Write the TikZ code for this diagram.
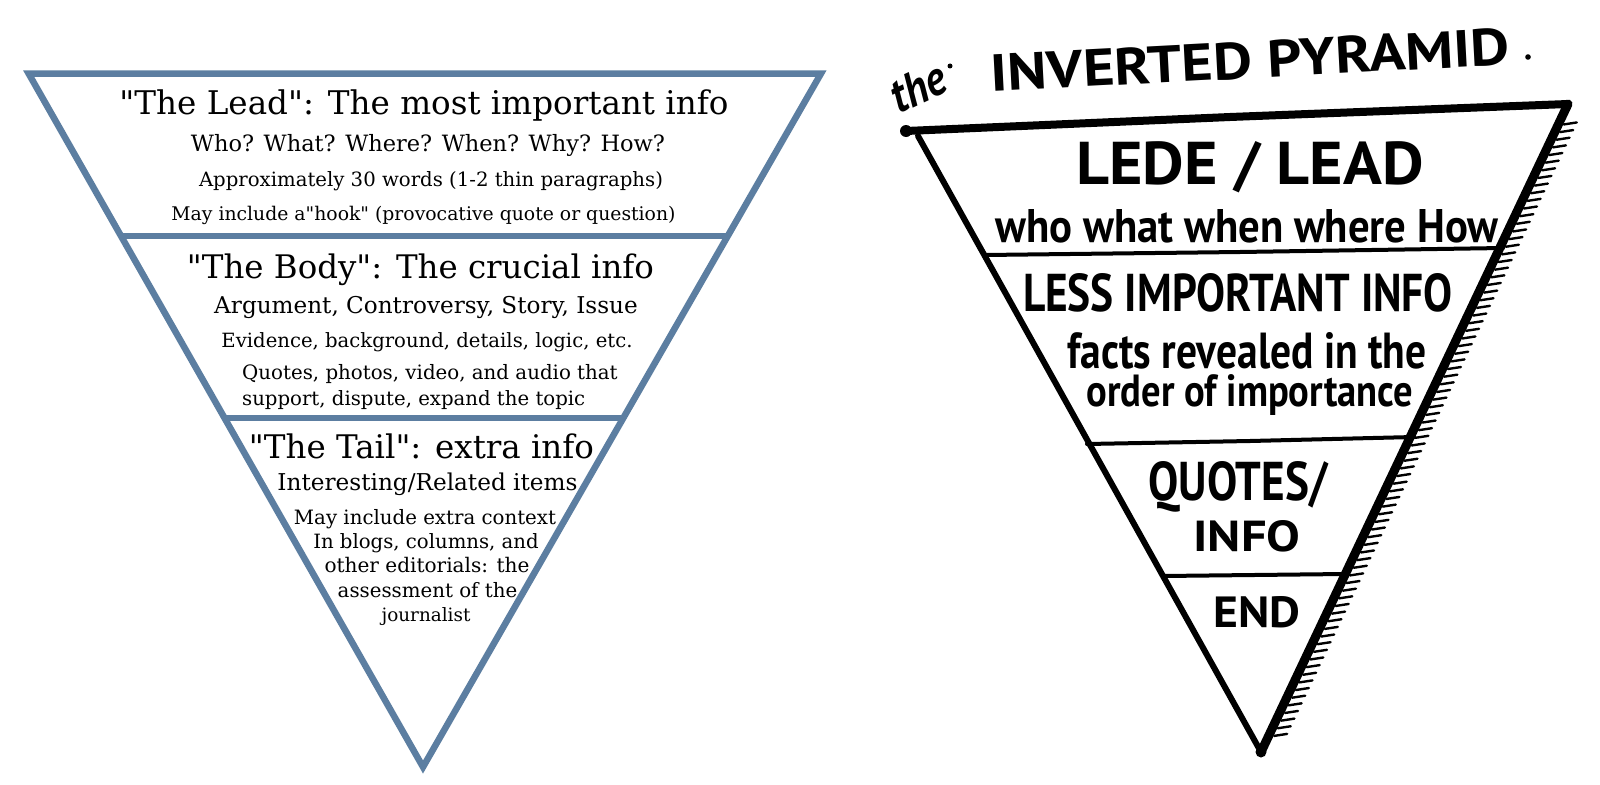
\documentclass[tikz,border=0pt]{standalone}
\usepackage{fontspec}
\setmainfont{DejaVu Serif}[Ligatures=TeXOff]
\newfontfamily\hand{PT Sans}[Ligatures=TeXOff]
\usetikzlibrary{calc}
\definecolor{pyrblue}{RGB}{92,126,161}
\newcommand\fitw[2]{\resizebox{#1pt}{!}{#2}}
\newcommand\fitwh[3]{\resizebox{#1pt}{#2pt}{#3}}
\begin{document}
\begin{tikzpicture}[x=1pt,y=-1pt,
  bluestroke/.style={draw=pyrblue,line width=6.5pt,line join=miter},
  lt/.style={inner sep=0pt,anchor=base,font=\fontsize{20}{24}\selectfont},
  ht/.style={inner sep=0pt,anchor=base,font=\hand\bfseries\fontsize{40}{48}\selectfont},
  inkedge/.style={draw=black,line width=6pt,line cap=round,line join=round},
  inkrule/.style={draw=black,line width=4pt,line cap=round},
  inktick/.style={draw=black,line width=2.4pt,line cap=round}]
\useasboundingbox (0,0) rectangle (1600,784);
\fill[white] (0,0) rectangle (1600,784);

% ---------- left pyramid ----------
\coordinate (LA) at (28.6,73.5);
\coordinate (LB) at (821,73.5);
\coordinate (LC) at (423,767);
\draw[bluestroke] (LA) -- (LB) -- (LC) -- cycle;
\coordinate (L1a) at (121,236);   \coordinate (L1b) at (727.7,236);
\coordinate (L2a) at (224.5,418); \coordinate (L2b) at (623.3,418);
\draw[bluestroke] (L1a) -- (L1b);
\draw[bluestroke] (L2a) -- (L2b);

\node[lt] (lead)  at (424,114.3) {\fitw{609}{"The Lead": The most important info}};
\node[lt] (who)   at (428,151)   {\fitw{474}{Who? What? Where? When? Why? How?}};
\node[lt] (appr)  at (431,186.7) {\fitw{464}{Approximately 30 words (1-2 thin paragraphs)}};
\node[lt] (hook)  at (423.5,220.4) {\fitw{504}{May include a"hook" (provocative quote or question)}};

\node[lt] (body)  at (420.5,278.6) {\fitw{467}{"The Body": The crucial info}};
\node[lt] (arg)   at (426,313)   {\fitw{423.5}{Argument, Controversy, Story, Issue}};
\node[lt] (evid)  at (427,347)   {\fitw{411}{Evidence, background, details, logic, etc.}};
\node[lt,anchor=base west] (quot) at (242,379.6) {\fitw{375.5}{Quotes, photos, video, and audio that}};
\node[lt,anchor=base west] (supp) at (242,405) {\fitw{343}{support, dispute, expand the topic}};

\node[lt] (tail)  at (421.5,458) {\fitw{345}{"The Tail": extra info}};
\node[lt] (inter) at (427.5,490) {\fitw{300}{Interesting/Related items}};
\node[lt] (ctx)   at (425,524.5) {\fitw{262}{May include extra context}};
\node[lt] (blogs) at (426,548.5) {\fitw{225.5}{In blogs, columns, and}};
\node[lt] (edit)  at (427,572.8) {\fitw{205}{other editorials: the}};
\node[lt] (asse)  at (427.5,597) {\fitw{179.6}{assessment of the}};
\node[lt] (jour)  at (426,621.3) {\fitw{88.8}{journalist}};

% ---------- right pyramid ----------
\coordinate (RTL) at (906,131);
\coordinate (RLE) at (918,136);
\coordinate (RT)  at (1568,104);
\coordinate (RB)  at (1261,752);
\draw[inkedge,line width=8pt] (RTL) -- (1230,117) -- (RT);
\draw[inkedge] (RLE) -- (RB);
\draw[inkedge,line width=9pt] (RT) -- (RB);
\fill (RTL) circle (6);
\fill (RB) circle (5.5);
\foreach \i in {0,...,80}{
  \pgfmathsetmacro\tq{0.03+\i*0.0118}
  \draw[inktick] ($(RT)!\tq!(RB)$) ++(5,1) -- ++(13,-2);
}
\draw[inkrule] (985,255) -- (1240,252) -- (1503,248);
\draw[inkrule] (1087,444) -- (1250,441) -- (1414,437);
\draw[inkrule] (1163,576) -- (1345,574);

\node[inner sep=0pt,rotate=25,font=\hand\bfseries\itshape\fontsize{40}{48}\selectfont] (the) at (918,87) {\fitwh{56}{34}{the}};
\fill (950,66) circle (2.5);
\node[inner sep=0pt,rotate=3,font=\hand\bfseries\fontsize{40}{48}\selectfont] (title) at (1250,60) {\fitwh{520}{37}{INVERTED PYRAMID}};
\fill (1528,57) circle (2.8);

\node[ht] (lede)  at (1250,184) {\fitwh{347}{43}{LEDE / LEAD}};
\node[ht] (w5)    at (1247,242) {\fitwh{503}{33}{who what when where How}};
\node[ht] (less)  at (1238,311) {\fitwh{430}{38}{LESS IMPORTANT INFO}};
\node[ht] (facts) at (1247,368) {\fitwh{359}{36}{facts revealed in the}};
\node[ht] (order) at (1250,406) {\fitwh{327}{32}{order of importance}};
\node[ht] (quotes) at (1238,500) {\fitwh{179}{39}{QUOTES/}};
\node[ht] (info)  at (1247,551) {\fitwh{107}{31}{INFO}};
\node[ht] (end)   at (1257,627) {\fitwh{87}{31}{END}};
\end{tikzpicture}
\end{document}
